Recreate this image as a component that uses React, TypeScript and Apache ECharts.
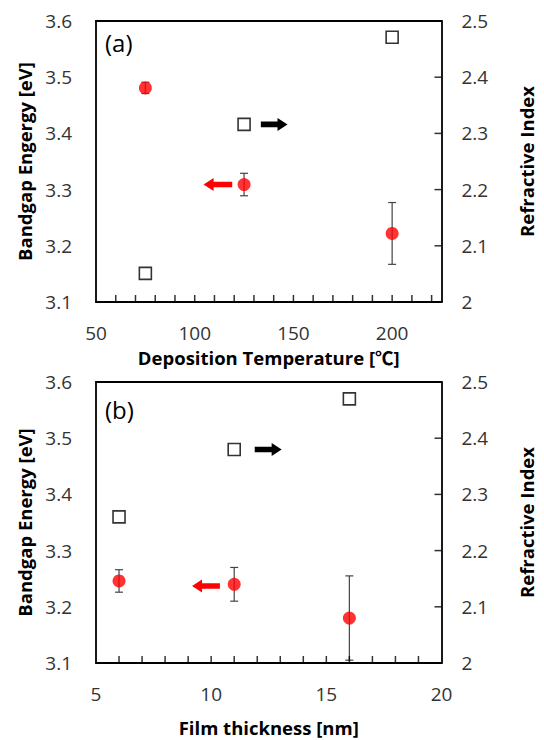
import React, { useEffect, useRef } from "react";
import * as echarts from "echarts";

// Panel (a): deposition temperature
const tempA = [75, 125, 200];
const bandgapA = [3.481, 3.309, 3.222];
const bandgapErrA = [0.01, 0.02, 0.055];
const refIdxA = [2.051, 2.316, 2.471];

// Panel (b): film thickness
const thickB = [6, 11, 16];
const bandgapB = [3.246, 3.24, 3.18];
const bandgapErrB = [0.02, 0.03, 0.075];
const refIdxB = [2.26, 2.38, 2.47];

// arrows: [tailX, headX, y]
const arrowRedA = [119, 104.5, 3.309];
const arrowBlackA = [133.5, 147, 2.316];
const arrowRedB = [10.38, 9.17, 3.237];
const arrowBlackB = [11.89, 13.06, 2.38];

// axis ranges
const xRangeA = [50, 225];
const xRangeB = [5, 20];
const yRangeL = [3.1, 3.6];
const yRangeR = [2, 2.5];

// minor/major tick positions
const xTicksA = [60, 70, 80, 90, 100, 110, 120, 130, 140, 150, 160, 170, 180, 190, 200, 210, 220];
const xTicksB = [6, 7, 8, 9, 10, 11, 12, 13, 14, 15, 16, 17, 18, 19];
const yTicksR = [2.1, 2.2, 2.3, 2.4];

const FONT = "'Open Sans', 'Noto Sans CJK KR', sans-serif";
const TICK_LEN = 7;
const TICK_W = 1.5;

const arrowRender = (params: any, api: any) => {
  const t = api.coord([api.value(0), api.value(2)]);
  const h = api.coord([api.value(1), api.value(2)]);
  const dir = Math.sign(h[0] - t[0]);
  const headLen = 10, sh = 2.8, hh = 6.5;
  const bx = h[0] - dir * headLen;
  const y = t[1];
  return {
    type: "polygon",
    shape: {
      points: [
        [t[0], y - sh], [bx, y - sh], [bx, y - hh], [h[0], y],
        [bx, y + hh], [bx, y + sh], [t[0], y + sh],
      ],
    },
    style: { fill: api.visual("color") },
  };
};

const errRender = (params: any, api: any) => {
  const x = api.value(0), y = api.value(1), e = api.value(2);
  const top = api.coord([x, y + e]);
  const bot = api.coord([x, y - e]);
  const cw = 4;
  const st = { stroke: "#444", lineWidth: 1.2 };
  return {
    type: "group",
    children: [
      { type: "line", shape: { x1: top[0], y1: top[1], x2: bot[0], y2: bot[1] }, style: st },
      { type: "line", shape: { x1: top[0] - cw, y1: top[1], x2: top[0] + cw, y2: top[1] }, style: st },
      { type: "line", shape: { x1: bot[0] - cw, y1: bot[1], x2: bot[0] + cw, y2: bot[1] }, style: st },
    ],
  };
};

const labelStyle = { color: "#333", fontSize: 19, fontFamily: FONT };
const nameStyle = { color: "#000", fontSize: 18.5, fontWeight: "bold" as const, fontFamily: FONT };

function makeX(gridIndex: number, range: number[], step: number, major: number, name: string, nameGap: number) {
  return {
    type: "value",
    gridIndex,
    position: "bottom",
    min: range[0],
    max: range[1],
    interval: step,
    name,
    nameLocation: "middle",
    nameGap,
    nameTextStyle: { ...nameStyle },
    axisLine: { show: true, onZero: false, lineStyle: { color: "#000", width: 1.8 } },
    axisTick: { show: false },
    axisLabel: {
      ...labelStyle,
      margin: 21,
      formatter: (v: number) => (Math.abs(v % major) < 1e-9 ? String(v) : ""),
    },
    splitLine: { show: false },
  };
}

function makeTop(gridIndex: number, range: number[]) {
  return {
    type: "value",
    gridIndex,
    position: "top",
    min: range[0],
    max: range[1],
    axisLine: { show: true, onZero: false, lineStyle: { color: "#000", width: 1.8 } },
    axisTick: { show: false },
    axisLabel: { show: false },
    splitLine: { show: false },
  };
}

function makeY(gridIndex: number, range: number[], position: string, name: string, nameGap: number, fmt: (v: number) => string) {
  return {
    type: "value",
    gridIndex,
    position,
    min: range[0],
    max: range[1],
    interval: 0.1,
    name,
    nameLocation: "middle",
    nameGap,
    nameTextStyle: { ...nameStyle },
    axisLine: { show: true, onZero: false, lineStyle: { color: "#000", width: 1.8 } },
    axisTick: { show: false },
    axisLabel: { ...labelStyle, margin: position === "left" ? 24 : 20, formatter: fmt },
    splitLine: { show: false },
  };
}

export default function App() {
  const ref = useRef<HTMLDivElement>(null);
  useEffect(() => {
    document.body.style.margin = "0";
    const chart = echarts.init(ref.current!, null, { renderer: "svg" });
    const fmtL = (v: number) => v.toFixed(1);
    const fmtR = (v: number) => (Math.abs(v - 2) < 1e-9 ? "2" : v.toFixed(1));
    const zip = (a: number[], b: number[]) => a.map((x, i) => [x, b[i]]);
    const zip3 = (a: number[], b: number[], c: number[]) => a.map((x, i) => [x, b[i], c[i]]);

    const circle = { type: "scatter", symbol: "circle", symbolSize: 13, itemStyle: { color: "#ff0000" }, z: 3 };
    const square = { type: "scatter", symbol: "rect", symbolSize: 12, itemStyle: { color: "#fff", borderColor: "#000", borderWidth: 1.6 }, z: 3 };
    const xTick = { type: "scatter", symbol: "rect", symbolSize: [TICK_W, TICK_LEN], symbolOffset: [0, -TICK_LEN / 2], itemStyle: { color: "#000" }, clip: false, silent: true, z: 6 };
    const yTick = { type: "scatter", symbol: "rect", symbolSize: [TICK_LEN, TICK_W], symbolOffset: [-TICK_LEN / 2, 0], itemStyle: { color: "#000" }, clip: false, silent: true, z: 6 };

    chart.setOption({
      animation: false,
      backgroundColor: "#fff",
      grid: [
        { left: 96, top: 21, width: 349, height: 281 },
        { left: 96, top: 382, width: 349, height: 281 },
      ],
      xAxis: [
        makeX(0, xRangeA, 10, 50, "Deposition Temperature [℃]", 46),
        makeX(1, xRangeB, 1, 5, "Film thickness [nm]", 55),
        makeTop(0, xRangeA),
        makeTop(1, xRangeB),
      ],
      yAxis: [
        makeY(0, yRangeL, "left", "Bandgap Engergy [eV]", 62, fmtL),
        makeY(0, yRangeR, "right", "Refractive Index", 76, fmtR),
        makeY(1, yRangeL, "left", "Bandgap Energy [eV]", 62, fmtL),
        makeY(1, yRangeR, "right", "Refractive Index", 76, fmtR),
      ],
      graphic: [
        { type: "text", left: 105, top: 30, style: { text: "(a)", font: `24px ${FONT}`, fill: "#000" } },
        { type: "text", left: 105, top: 397, style: { text: "(b)", font: `24px ${FONT}`, fill: "#000" } },
      ],
      series: [
        // Panel (a)
        { type: "custom", xAxisIndex: 0, yAxisIndex: 0, renderItem: errRender, data: zip3(tempA, bandgapA, bandgapErrA), encode: { x: 0, y: 1 }, z: 2 },
        { ...circle, xAxisIndex: 0, yAxisIndex: 0, data: zip(tempA, bandgapA) },
        { ...square, xAxisIndex: 0, yAxisIndex: 1, data: zip(tempA, refIdxA) },
        { type: "custom", xAxisIndex: 0, yAxisIndex: 0, renderItem: arrowRender, data: [arrowRedA], encode: { x: [0, 1], y: 2 }, itemStyle: { color: "#ff0000" }, z: 3 },
        { type: "custom", xAxisIndex: 0, yAxisIndex: 1, renderItem: arrowRender, data: [arrowBlackA], encode: { x: [0, 1], y: 2 }, itemStyle: { color: "#000" }, z: 3 },
        // Panel (b)
        { type: "custom", xAxisIndex: 1, yAxisIndex: 2, renderItem: errRender, data: zip3(thickB, bandgapB, bandgapErrB), encode: { x: 0, y: 1 }, z: 2 },
        { ...circle, xAxisIndex: 1, yAxisIndex: 2, data: zip(thickB, bandgapB) },
        { ...square, xAxisIndex: 1, yAxisIndex: 3, data: zip(thickB, refIdxB) },
        { type: "custom", xAxisIndex: 1, yAxisIndex: 2, renderItem: arrowRender, data: [arrowRedB], encode: { x: [0, 1], y: 2 }, itemStyle: { color: "#ff0000" }, z: 3 },
        { type: "custom", xAxisIndex: 1, yAxisIndex: 3, renderItem: arrowRender, data: [arrowBlackB], encode: { x: [0, 1], y: 2 }, itemStyle: { color: "#000" }, z: 3 },
        // inside ticks
        { ...xTick, xAxisIndex: 0, yAxisIndex: 0, data: xTicksA.map((v) => [v, yRangeL[0]]) },
        { ...yTick, xAxisIndex: 0, yAxisIndex: 1, data: yTicksR.map((v) => [xRangeA[1], v]) },
        { ...xTick, xAxisIndex: 1, yAxisIndex: 2, data: xTicksB.map((v) => [v, yRangeL[0]]) },
        { ...yTick, xAxisIndex: 1, yAxisIndex: 3, data: yTicksR.map((v) => [xRangeB[1], v]) },
      ],
    });
    return () => chart.dispose();
  }, []);
  return <div ref={ref} style={{ width: 544, height: 740 }} />;
}
